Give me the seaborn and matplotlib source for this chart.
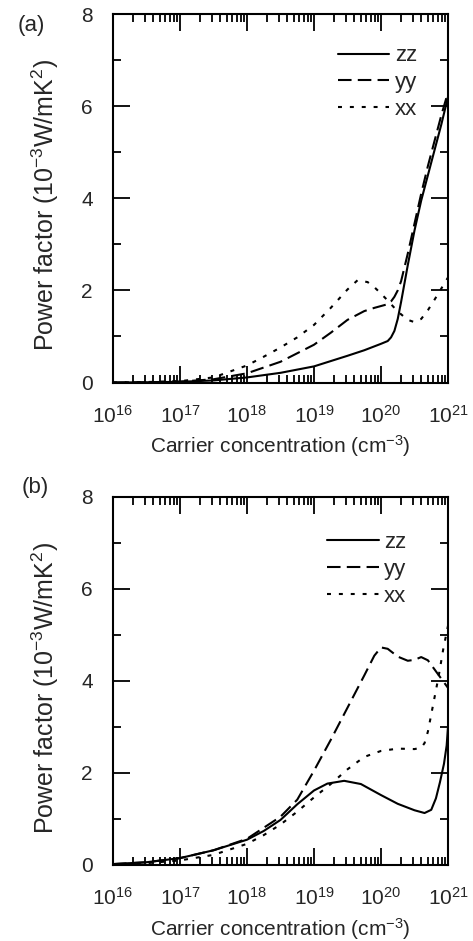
import numpy as np
import pandas as pd
import seaborn as sns
import matplotlib
matplotlib.use("Agg")
import matplotlib.pyplot as plt
from matplotlib.ticker import LogLocator, NullFormatter, MultipleLocator

# ---------------- data (log10 of carrier concentration, power factor) -------------
series_names = ["zz", "yy", "xx"]

zz_a_logn = [16, 16.5, 17, 17.5, 18, 18.5, 19, 19.5, 19.75, 20, 20.1, 20.15, 20.2, 20.25,
             20.3, 20.35, 20.4, 20.5, 20.6, 20.7, 20.8, 20.9, 21]
zz_a = [0.0, 0.005, 0.015, 0.045, 0.11, 0.21, 0.35, 0.58, 0.7, 0.84, 0.9, 0.98, 1.12, 1.38,
        1.75, 2.15, 2.55, 3.3, 3.95, 4.5, 5.05, 5.6, 6.2]

yy_a_logn = [16, 16.5, 17, 17.5, 18, 18.5, 19, 19.25, 19.5, 19.75, 19.9, 20, 20.1, 20.15,
             20.2, 20.25, 20.3, 20.4, 20.5, 20.6, 20.7, 20.8, 20.9, 21]
yy_a = [0.0, 0.005, 0.02, 0.07, 0.2, 0.45, 0.82, 1.08, 1.36, 1.55, 1.62, 1.66, 1.7, 1.76,
        1.86, 2.0, 2.2, 2.8, 3.45, 4.1, 4.7, 5.25, 5.8, 6.3]

xx_a_logn = [16, 16.5, 17, 17.5, 18, 18.25, 18.5, 18.75, 19, 19.25, 19.5, 19.65, 19.8, 19.9,
             20, 20.1, 20.2, 20.3, 20.4, 20.5, 20.6, 20.7, 20.8, 20.9, 21]
xx_a = [0.0, 0.01, 0.03, 0.11, 0.37, 0.56, 0.76, 0.98, 1.25, 1.62, 2.02, 2.22, 2.18, 2.07,
        1.93, 1.78, 1.62, 1.48, 1.36, 1.31, 1.38, 1.57, 1.8, 2.04, 2.28]

zz_b_logn = [16, 16.5, 17, 17.5, 18, 18.25, 18.5, 18.75, 19, 19.2, 19.45, 19.7, 20, 20.25,
             20.5, 20.65, 20.75, 20.82, 20.88, 20.94, 20.98, 21]
zz_b = [0.02, 0.06, 0.15, 0.32, 0.55, 0.74, 0.98, 1.32, 1.62, 1.77, 1.83, 1.76, 1.52, 1.33,
        1.19, 1.13, 1.2, 1.45, 1.8, 2.2, 2.6, 3.0]

yy_b_logn = [16, 16.5, 17, 17.5, 18, 18.5, 18.75, 19, 19.25, 19.5, 19.75, 19.9, 20, 20.1,
             20.25, 20.4, 20.5, 20.6, 20.7, 20.8, 20.9, 21]
yy_b = [0.02, 0.06, 0.15, 0.32, 0.57, 1.05, 1.42, 2.05, 2.72, 3.42, 4.12, 4.55, 4.73, 4.7,
        4.53, 4.44, 4.46, 4.52, 4.45, 4.25, 4.05, 3.85]

xx_b_logn = [16, 16.5, 17, 17.5, 18, 18.25, 18.5, 18.75, 19, 19.25, 19.5, 19.75, 20, 20.25,
             20.5, 20.6, 20.65, 20.7, 20.78, 20.86, 20.93, 21]
xx_b = [0.01, 0.04, 0.1, 0.22, 0.46, 0.65, 0.88, 1.16, 1.47, 1.76, 2.08, 2.35, 2.48, 2.53,
        2.52, 2.55, 2.65, 2.9, 3.5, 4.1, 4.7, 5.2]

xtick_exponents = [16, 17, 18, 19, 20, 21]
xtick_labels = [r"$\mathregular{10^{%d}}$" % e for e in xtick_exponents]
ytick_values = [0, 2, 4, 6, 8]
panel_labels = ["(a)", "(b)"]
xlabel_text = r"Carrier concentration (cm$\mathregular{^{-3}}$)"
ylabel_text = r"Power factor (10$\mathregular{^{-3}}$W/mK$\mathregular{^{2}}$)"


def long_frame(parts):
    frames = []
    for name, logn, vals in parts:
        frames.append(pd.DataFrame({"n": 10.0 ** np.asarray(logn, float),
                                    "pf": vals, "tensor": name}))
    return pd.concat(frames, ignore_index=True)


df_a = long_frame([("zz", zz_a_logn, zz_a), ("yy", yy_a_logn, yy_a), ("xx", xx_a_logn, xx_a)])
df_b = long_frame([("zz", zz_b_logn, zz_b), ("yy", yy_b_logn, yy_b), ("xx", xx_b_logn, xx_b)])

# ---------------- style ----------------
sns.set_theme(style="ticks")
plt.rcParams["font.family"] = ["Liberation Sans", "DejaVu Sans"]
plt.rcParams["mathtext.fontset"] = "custom"
plt.rcParams["mathtext.rm"] = "Liberation Sans"
plt.rcParams["mathtext.it"] = "Liberation Sans:italic"
plt.rcParams["mathtext.bf"] = "Liberation Sans:bold"

W, H = 473, 941
fig = plt.figure(figsize=(W / 100, H / 100), dpi=100)
fig.patch.set_facecolor("white")

ax_a = fig.add_axes([113 / W, 1 - 382.5 / H, 335 / W, 368.5 / H])
ax_b = fig.add_axes([113 / W, 1 - 865 / H, 335 / W, 368 / H])

dash_map = {"zz": "", "yy": (6.5, 3.0), "xx": (1.9, 3.8)}
FS_TICK = 15
FS_XLAB = 15
FS_YLAB = 18
FS_LEG = 16

legend_pos = [(0.672, 0.915), (0.640, 0.905)]

for ax, df, lab, lpos in zip([ax_a, ax_b], [df_a, df_b], panel_labels, legend_pos):
    sns.lineplot(data=df, x="n", y="pf", style="tensor", style_order=series_names,
                 dashes=dash_map, color="black", linewidth=1.5, estimator=None,
                 sort=False, legend=False, ax=ax)
    ax.set_xscale("log")
    ax.set_xlim(1e16, 1e21)
    ax.set_ylim(0, 8)
    ax.set_xticks([10.0 ** e for e in xtick_exponents])
    ax.set_xticklabels(xtick_labels)
    ax.xaxis.set_minor_locator(LogLocator(base=10, subs=np.arange(2, 10), numticks=50))
    ax.xaxis.set_minor_formatter(NullFormatter())
    ax.set_yticks(ytick_values)
    ax.yaxis.set_minor_locator(MultipleLocator(1))
    ax.tick_params(which="both", direction="in", top=True, right=True,
                   labelsize=FS_TICK, color="black", width=1.3)
    ax.tick_params(which="major", length=12)
    ax.tick_params(which="minor", length=5.5)
    ax.tick_params(axis="y", which="major", pad=14.5)
    ax.tick_params(axis="x", which="major", pad=16)
    for sp in ax.spines.values():
        sp.set_linewidth(1.5)
        sp.set_color("black")
    ax.set_xlabel(xlabel_text, fontsize=FS_XLAB, labelpad=5)
    ax.set_ylabel(ylabel_text, fontsize=FS_YLAB)
    ax.yaxis.set_label_coords(-0.154, 0.482)
    handles = ax.lines[:3]
    ax.legend(handles, series_names, loc="upper left", bbox_to_anchor=lpos,
              frameon=False, fontsize=FS_LEG, handlelength=2.3, handletextpad=0.25,
              labelspacing=0.26, borderpad=0, borderaxespad=0)

fig.text(31 / W, 1 - 25 / H, panel_labels[0], ha="center", va="center", fontsize=16)
fig.text(35 / W, 1 - 487 / H, panel_labels[1], ha="center", va="center", fontsize=16)

fig.savefig("out.png", dpi=100, facecolor="white")
